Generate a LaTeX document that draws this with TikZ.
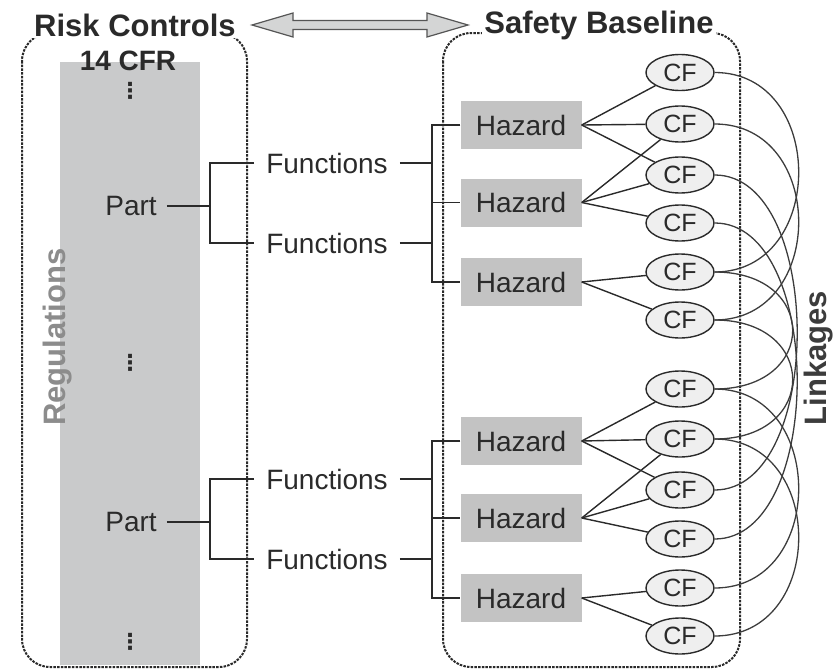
\documentclass[tikz,border=0pt]{standalone}
\usepackage{fontspec}
\setmainfont{Liberation Sans}
\newfontfamily\dvfont{DejaVu Sans}
\usetikzlibrary{shapes.geometric,calc}
\definecolor{ink}{HTML}{2A2A2A}
\definecolor{regfill}{HTML}{C9CACB}
\definecolor{hazfill}{HTML}{C3C3C3}
\definecolor{cffill}{HTML}{EFEFEF}
\definecolor{reggray}{HTML}{8C8C8C}
\definecolor{linkgray}{HTML}{3C3C3C}
\begin{document}
\begin{tikzpicture}[x=1pt,y=-1pt,
  txt/.style={font=\fontsize{28}{30}\selectfont, text=ink},
  ttl/.style={font=\fontsize{31}{33}\selectfont\bfseries, text=ink, fill=white, inner sep=2pt},
  hazard/.style={fill=hazfill, minimum width=121pt, minimum height=48pt, inner sep=0pt, txt},
  cf/.style={ellipse, draw=ink, line width=1.4pt, fill=cffill, minimum width=68pt, minimum height=36pt, inner sep=0pt, font=\fontsize{25}{26}\selectfont, text=ink},
  func/.style={txt, inner xsep=12pt, inner ysep=2pt},
  part/.style={txt, inner xsep=10pt, inner ysep=2pt},
  vdot/.style={font=\dvfont\bfseries\fontsize{22}{22}\selectfont, text=ink, inner sep=0pt},
  frame/.style={draw=ink, line width=2pt, dash pattern=on 2.5pt off 1.2pt, rounded corners=28pt},
  wire/.style={draw=ink, line width=1.6pt},
  link/.style={draw=linkgray, line width=1.3pt},
  dblarrow/.style={draw=ink!80, line width=1.2pt, fill=regfill!80},
]
\useasboundingbox (0,0) rectangle (836,672);

% regulation column
\fill[regfill] (60,62) rectangle (200,665);
\draw[frame] (22,33) rectangle (247,667);
\draw[frame] (443,33) rectangle (740,667);

% titles
\node[ttl] (rc) at (135,25) {Risk Controls};
\node[ttl] (sb) at (599,25) {Safety Baseline};
\coordinate (as) at (252,25);
\coordinate (ae) at (468,25);
\draw[dblarrow] (as) -- ($(as)+(41,-12)$) -- ($(as)+(41,-4.5)$) -- ($(ae)+(-41,-4.5)$)
  -- ($(ae)+(-41,-12)$) -- (ae) -- ($(ae)+(-41,12)$) -- ($(ae)+(-41,4.5)$)
  -- ($(as)+(41,4.5)$) -- ($(as)+(41,12)$) -- cycle;

\node[font=\fontsize{28}{30}\selectfont\bfseries, text=ink] (cfr) at (128,61) {14 CFR};
\node[vdot] (d1) at (130,91) {⋮};
\node[vdot] (d2) at (130,363) {⋮};
\node[vdot] (d3) at (130,642) {⋮};
\node[rotate=90, font=\fontsize{31}{33}\selectfont\bfseries, text=reggray] (reg) at (58,337) {Regulations};
\node[rotate=90, font=\fontsize{31}{33}\selectfont\bfseries, text=linkgray] (lnk) at (819,358) {Linkages};

% parts and functions
\node[part] (p1) at (131,206) {Part};
\node[part] (p2) at (131,522) {Part};
\node[func] (f1) at (327,163) {Functions};
\node[func] (f2) at (327,243) {Functions};
\node[func] (f3) at (327,479) {Functions};
\node[func] (f4) at (327,559) {Functions};

% hazards
\node[hazard] (h1) at (521,125) {Hazard};
\node[hazard] (h2) at (521,202.5) {Hazard};
\node[hazard] (h3) at (521,282) {Hazard};
\node[hazard] (h4) at (521,441) {Hazard};
\node[hazard] (h5) at (521,518) {Hazard};
\node[hazard] (h6) at (521,598) {Hazard};

% causal factors
\foreach \i/\y in {1/72.5,2/124,3/175,4/223,5/272,6/320,7/389,8/439,9/490,10/539,11/588,12/636}
  \node[cf] (c\i) at (680,\y) {CF};

% tree connectors
\coordinate (j1) at (210,206);
\coordinate (j2) at (210,522);
\draw[wire] (p1.east) -- (j1);
\draw[wire] (f1.west) -| (j1) |- (f2.west);
\draw[wire] (p2.east) -- (j2);
\draw[wire] (f3.west) -| (j2) |- (f4.west);

\coordinate (k1) at (432,202.5);
\coordinate (k2) at (432,518);
\draw[wire] (h1.west) -| (k1) |- (h3.west);
\draw[wire] (k1) -- (h2.west);
\draw[wire] (f1.east) -- (f1.east -| k1);
\draw[wire] (f2.east) -- (f2.east -| k1);
\draw[wire] (h4.west) -| (k2) |- (h6.west);
\draw[wire] (k2) -- (h5.west);
\draw[wire] (f3.east) -- (f3.east -| k2);
\draw[wire] (f4.east) -- (f4.east -| k2);

% hazard to CF
\foreach \h/\c in {h1/c1,h1/c2,h1/c3,h2/c2,h2/c3,h2/c4,h3/c5,h3/c6,
                   h4/c7,h4/c8,h4/c9,h5/c8,h5/c9,h5/c10,h6/c11,h6/c12}
  \draw[wire, line width=1.4pt] (\h.east) -- (\c);

% linkages
\foreach \a/\b/\d in {c1/c5/112,c2/c6/112,c12/c8/112,c11/c7/112,c3/c9/110,c4/c10/110,c5/c7/104,c6/c8/104}
  \draw[link] (\a.east) .. controls +(\d,0) and +(\d,0) .. (\b.east);

\end{tikzpicture}
\end{document}
